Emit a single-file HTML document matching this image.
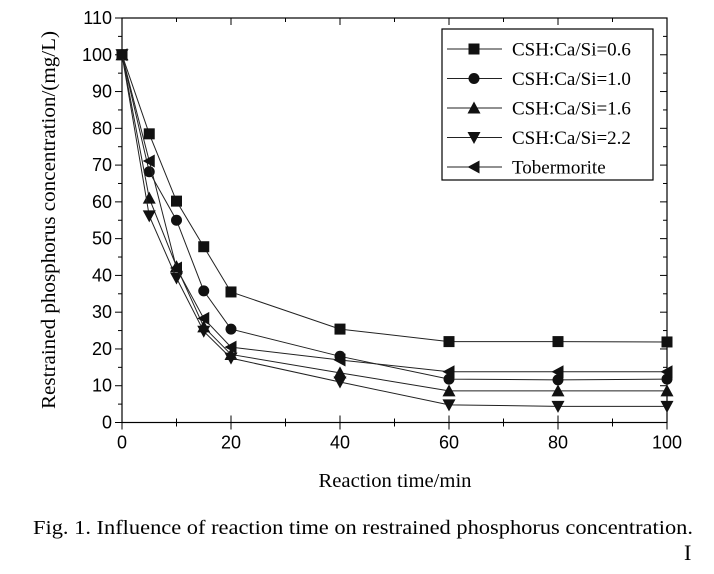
<!DOCTYPE html>
<html><head><meta charset="utf-8"><style>
body{margin:0;background:#fff;width:714px;height:574px;overflow:hidden}
svg{display:block}
</style></head><body>
<svg id="chart" width="714" height="574" xmlns="http://www.w3.org/2000/svg">
<g id="axes"></g><g id="series"></g><g id="legend"></g>
<text x="55" y="220" transform="rotate(-90 55 220)" text-anchor="middle" font-family="Liberation Serif, serif" font-size="19.5" textLength="378" lengthAdjust="spacingAndGlyphs">Restrained phosphorus concentration/(mg/L)</text>
<text x="395" y="487" text-anchor="middle" font-family="Liberation Serif, serif" font-size="20" textLength="153" lengthAdjust="spacingAndGlyphs">Reaction time/min</text>
<text x="33" y="534" font-family="Liberation Serif, serif" font-size="20" textLength="660" lengthAdjust="spacingAndGlyphs">Fig. 1.  Influence of reaction time on restrained phosphorus concentration.</text>
<text x="684" y="560" font-family="Liberation Serif, serif" font-size="22">I</text>
</svg>
<script>
const xs = [0,5,10,15,20,40,60,80,100];
const seriesNames = ["CSH:Ca/Si=0.6","CSH:Ca/Si=1.0","CSH:Ca/Si=1.6","CSH:Ca/Si=2.2","Tobermorite"];
const s06 = [100,78.5,60.2,47.8,35.5,25.4,22.0,22.0,21.9];
const s10 = [100,68.2,55.0,35.8,25.4,18.0,11.8,11.6,11.8];
const s16 = [100,61.0,42.4,26.0,18.5,13.5,8.6,8.6,8.6];
const s22 = [100,56.2,39.3,24.8,17.5,11.0,4.8,4.4,4.4];
const sTob = [100,71.1,42.0,28.3,20.5,17.0,13.8,13.8,13.8];
const xTicks = [0,20,40,60,80,100];
const yTicks = [0,10,20,30,40,50,60,70,80,90,100,110];
const allSeries = [s06,s10,s16,s22,sTob];
const markers = ["square","circle","up","down","left"];
const NS="http://www.w3.org/2000/svg";
const X0=122,X1=667,Y0=422.5,Y1=18;
const xS=v=>X0+(v/100)*(X1-X0);
const yS=v=>Y0-(v/110)*(Y0-Y1);
function el(t,a,p){const e=document.createElementNS(NS,t);for(const k in a)e.setAttribute(k,a[k]);p.appendChild(e);return e;}
const axes=document.getElementById('axes');
const frame=el('rect',{x:X0,y:Y1,width:X1-X0,height:Y0-Y1,fill:'none',stroke:'#000','stroke-width':1.2},axes);


for(let v=0;v<=100;v+=10){const big=v%20===0;const x=xS(v);
 el('line',{x1:x,x2:x,y1:Y0,y2:Y0+(big?7:4),stroke:'#000'},axes);
 el('line',{x1:x,x2:x,y1:Y0,y2:Y0-(big?7:4),stroke:'#000'},axes);
 el('line',{x1:x,x2:x,y1:Y1,y2:Y1+(big?7:4),stroke:'#000'},axes);}
for(let v=0;v<=110;v+=5){const big=v%10===0;const y=yS(v);
 el('line',{x1:X0,x2:X0-(big?7:4),y1:y,y2:y,stroke:'#000'},axes);
 el('line',{x1:X1,x2:X1-(big?7:4),y1:y,y2:y,stroke:'#000'},axes);}
xTicks.forEach(v=>{const t=el('text',{x:xS(v),y:Y0+26,'text-anchor':'middle','font-family':'Liberation Sans, sans-serif','font-size':18},axes);t.textContent=v;
 
 });
yTicks.forEach(v=>{const t=el('text',{x:X0-10,y:yS(v)+6,'text-anchor':'end','font-family':'Liberation Sans, sans-serif','font-size':18},axes);t.textContent=v;
 
 });
function marker(type,x,y,p){const r=5.5;let e;
 if(type==='square')e=el('rect',{x:x-r,y:y-r,width:2*r,height:2*r,fill:'#111'},p);
 else if(type==='circle')e=el('circle',{cx:x,cy:y,r:r,fill:'#111'},p);
 else if(type==='up')e=el('polygon',{points:`${x},${y-r-1} ${x-r-1},${y+r} ${x+r+1},${y+r}`,fill:'#111'},p);
 else if(type==='down')e=el('polygon',{points:`${x},${y+r+1} ${x-r-1},${y-r} ${x+r+1},${y-r}`,fill:'#111'},p);
 else e=el('polygon',{points:`${x-r-1},${y} ${x+r},${y-r-1} ${x+r},${y+r+1}`,fill:'#111'},p);
 return e;}
const sg=document.getElementById('series');
allSeries.forEach((s,i)=>{
 const g=el('g',{},sg);
 
 
 el('polyline',{points:s.map((v,j)=>xS(xs[j])+','+yS(v)).join(' '),fill:'none',stroke:'#222','stroke-width':1},g);
 s.forEach((v,j)=>{const m=marker(markers[i],xS(xs[j]),yS(v),g);
  
  });
});
const lg=document.getElementById('legend');
const box=el('rect',{x:442,y:29,width:211,height:151,fill:'#fff',stroke:'#000','stroke-width':1.2},lg);


seriesNames.forEach((n,i)=>{const y=49+i*29.5;
 const g=el('g',{},lg);
 
 
 el('line',{x1:447,x2:502,y1:y,y2:y,stroke:'#222'},g);
 marker(markers[i],474,y,g);
 const t=el('text',{x:512,y:y+6.5,'font-family':'Liberation Serif, serif','font-size':19},g);t.textContent=n;});
</script>
</body></html>
